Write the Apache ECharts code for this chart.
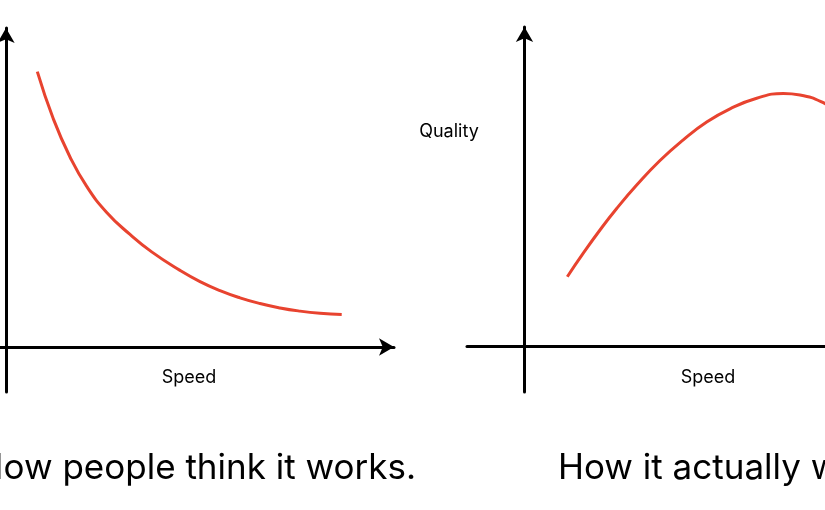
<!DOCTYPE html>
<html>
<head>
<meta charset="utf-8">
<script src="https://cdn.jsdelivr.net/npm/echarts@6/dist/echarts.min.js"></script>
<style>
html,body{margin:0;padding:0;background:#fff;}
#c{width:825px;height:510px;}
</style>
</head>
<body>
<div id="c"></div>
<script>
// ---- data (units roughly 0..10 along each axis) ----
var speedA   = [0.823, 1.243, 1.682, 2.121, 2.647, 3.259, 3.829, 4.573, 5.099, 5.624, 6.150, 6.675, 7.201, 7.727, 8.252, 8.823];
var qualityA = [8.838, 7.326, 6.100, 5.156, 4.321, 3.612, 3.053, 2.459, 2.100, 1.811, 1.579, 1.396, 1.255, 1.152, 1.082, 1.040];
var speedB   = [1.125, 1.545, 1.984, 2.423, 2.949, 3.561, 4.173, 4.788, 5.401, 6.103, 6.802, 7.241, 7.898, 8.555];
var qualityB = [2.237, 2.990, 3.734, 4.423, 5.173, 5.962, 6.625, 7.196, 7.619, 7.958, 8.109, 8.061, 7.788, 7.324];
var titleA = 'How people think it works.';
var titleB = 'How it actually works.';
var xLabel = 'Speed';
var yLabel = 'Quality';

// ---- layout (pixels) ----
var FONT = 'Inter, "Noto Sans", "Liberation Sans", sans-serif';
var RED = '#E8432F';
var panels = [
  {left: 0,   right: 394, originX: 6,     top: 28, bottom: 392, originY: 347,   ppuX: 38.05, ppuY: 31.15, xArrow: true},
  {left: 467, right: 825, originX: 524.5, top: 27, bottom: 392, originY: 346.5, ppuX: 38.05, ppuY: 31.2,  xArrow: false}
];
function pairs(xs, ys){ return xs.map(function(x,i){ return [x, ys[i]]; }); }

var grids = [], xAxes = [], yAxes = [], series = [];
var datasets = [pairs(speedA, qualityA), pairs(speedB, qualityB)];
function axisLine(arrow){
  return {show: true, onZero: true, symbol: ['none', arrow ? 'arrow' : 'none'], symbolSize: [13, 15],
          lineStyle: {color: '#000', width: 3}};
}
panels.forEach(function(p, i){
  grids.push({left: p.left, top: p.top, width: p.right - p.left, height: p.bottom - p.top, containLabel: false});
  xAxes.push({type: 'value', gridIndex: i,
    min: -(p.originX - p.left) / p.ppuX, max: (p.right - p.originX) / p.ppuX,
    axisLine: axisLine(p.xArrow), axisTick: {show: false}, axisLabel: {show: false}, splitLine: {show: false}});
  yAxes.push({type: 'value', gridIndex: i,
    min: -(p.bottom - p.originY) / p.ppuY, max: (p.originY - p.top) / p.ppuY,
    axisLine: axisLine(true), axisTick: {show: false}, axisLabel: {show: false}, splitLine: {show: false}});
  series.push({type: 'line', xAxisIndex: i, yAxisIndex: i, data: datasets[i],
    showSymbol: false, smooth: 0.5, clip: false, silent: true,
    lineStyle: {color: RED, width: 3}});
});

var chart = echarts.init(document.getElementById('c'), null, {renderer: 'canvas'});
chart.setOption({
  animation: false,
  backgroundColor: '#fff',
  grid: grids, xAxis: xAxes, yAxis: yAxes, series: series,
  graphic: [
    {type: 'text', x: 189, y: 378, style: {text: xLabel, font: '18px ' + FONT, fill: '#000', align: 'center', verticalAlign: 'middle'}},
    {type: 'text', x: 708, y: 378, style: {text: xLabel, font: '18px ' + FONT, fill: '#000', align: 'center', verticalAlign: 'middle'}},
    {type: 'text', x: 449, y: 132, style: {text: yLabel, font: '18px ' + FONT, fill: '#000', align: 'center', verticalAlign: 'middle'}},
    {type: 'text', x: 416, y: 468, style: {text: titleA, font: '35px ' + FONT, fill: '#000', align: 'right', verticalAlign: 'middle'}},
    {type: 'text', x: 558, y: 468, style: {text: titleB, font: '35px ' + FONT, fill: '#000', align: 'left', verticalAlign: 'middle'}}
  ]
});
</script>
</body>
</html>
